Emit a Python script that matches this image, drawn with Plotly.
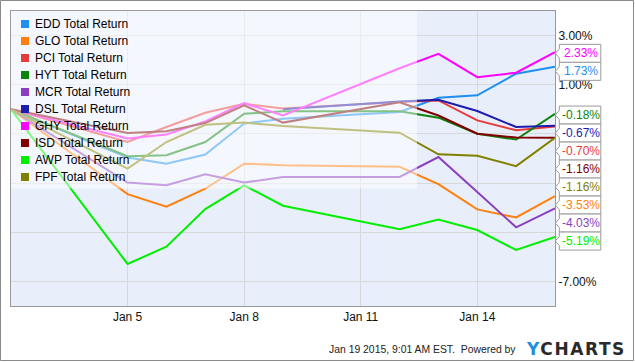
import plotly.graph_objects as go

# ---------------- data ----------------
dates = ["2015-01-02", "2015-01-05", "2015-01-06", "2015-01-07", "2015-01-08",
         "2015-01-09", "2015-01-12", "2015-01-13", "2015-01-14", "2015-01-15",
         "2015-01-16"]
EDD = [0, -1.96, -2.21, -1.84, -0.58, -0.38, -0.11, 0.47, 0.57, 1.45, 1.73]
GLO = [0, -3.45, -3.96, -3.23, -2.21, -2.27, -2.34, -3.04, -4.07, -4.40, -3.53]
PCI = [0, -1.33, -0.72, -0.14, 0.23, 0.03, 0.30, 0.36, -0.45, -0.85, -0.70]
HYT = [0, -1.91, -1.87, -1.33, -0.18, -0.08, -0.08, -0.34, -0.99, -1.23, -0.18]
MCR = [0, -2.98, -3.09, -2.64, -2.98, -2.75, -2.75, -1.94, -3.36, -4.80, -4.03]
DSL = [None, None, None, None, None, 0, 0.32, 0.39, -0.07, -0.72, -0.67]
GHY = [0, -1.19, -1.02, -0.49, 0.25, -0.25, 1.67, 2.26, 1.31, 1.49, 2.33]
ISD = [0, -0.96, -0.89, -0.56, 0.16, -0.54, 0.29, -0.25, -0.99, -1.15, -1.16]
AWP = [0, -6.29, -5.59, -4.06, -3.09, -3.92, -4.88, -4.48, -4.91, -5.72, -5.19]
FPF = [0, -2.41, -1.33, -0.63, -0.54, -0.68, -0.95, -1.83, -1.89, -2.31, -1.16]

names = ["EDD Total Return", "GLO Total Return", "PCI Total Return", "HYT Total Return",
         "MCR Total Return", "DSL Total Return", "GHY Total Return", "ISD Total Return",
         "AWP Total Return", "FPF Total Return"]
series = [EDD, GLO, PCI, HYT, MCR, DSL, GHY, ISD, AWP, FPF]
colors = ["#1e8ff0", "#ff7f0e", "#e8393c", "#0a840a", "#8a3fc0",
          "#1c1cae", "#ff00ff", "#800000", "#00ee00", "#808000"]

x_range = ["2015-01-02", "2015-01-16"]
x_ticks = ["2015-01-05", "2015-01-08", "2015-01-11", "2015-01-14"]
y_range = [-8, 4]
y_ticks = [-7, -5, -3, -1, 1, 3]
credit = "Jan 19 2015, 9:01 AM EST.  Powered by"

# ---------------- geometry ----------------
W, H = 635, 362
PL, PT, PR, PB = 11, 11, 80, 56
PW, PH = W - PL - PR, H - PT - PB


def px(x):
    return (x - PL) / PW


def py(y):
    return (PT + PH - y) / PH


def val_to_px(v):
    return PT + (y_range[1] - v) / (y_range[1] - y_range[0]) * PH


fig = go.Figure()
for s, c, n in zip(series, colors, names):
    fig.add_trace(go.Scatter(x=dates, y=s, mode="lines", name=n,
                             line=dict(color=c, width=2), showlegend=False,
                             connectgaps=False, hoverinfo="skip"))

shapes = []
annotations = []

# semi-transparent legend backdrop
shapes.append(dict(type="rect", xref="paper", yref="paper",
                   x0=px(PL), x1=px(417), y0=py(188.5), y1=py(PT),
                   fillcolor="rgba(255,255,255,0.5)", line=dict(width=0),
                   layer="above"))

# legend
for i, (n, c) in enumerate(zip(names, colors)):
    cy = 24 + 17 * i
    shapes.append(dict(type="rect", xref="paper", yref="paper",
                       x0=px(21), x1=px(29), y0=py(cy + 4), y1=py(cy - 4),
                       fillcolor=c, line=dict(width=0), layer="above"))
    annotations.append(dict(xref="paper", yref="paper", x=px(33), y=py(cy),
                            xanchor="left", yanchor="middle", showarrow=False,
                            text=n, font=dict(family="Liberation Sans, Arial", size=12,
                                              color="#000000")))

# end-of-line labels (stacked to avoid overlap)
order = sorted(range(len(series)), key=lambda i: -series[i][-1])
label_pos = []
prev = None
for i in order:
    yp = val_to_px(series[i][-1]) + 1.3
    if prev is not None and yp < prev + 18:
        yp = prev + 18
    prev = yp
    label_pos.append((i, yp))

bx0, bx1, tip = 559.3, 600.8, 555.3
for i, yp in label_pos:
    path = ("M {a},{t} L {b},{t} L {b},{bt} L {a},{bt} L {a},{n2} L {tp},{m} L {a},{n1} Z"
            .format(a=px(bx0), b=px(bx1), t=py(yp - 9), bt=py(yp + 9),
                    n1=py(yp - 4.5), n2=py(yp + 4.5), tp=px(tip), m=py(yp)))
    shapes.append(dict(type="path", xref="paper", yref="paper", path=path,
                       fillcolor="#ffffff", line=dict(color="#9a9a9a", width=1),
                       layer="above"))
    annotations.append(dict(xref="paper", yref="paper", x=px((bx0 + bx1) / 2 + 0.5),
                            y=py(yp), xanchor="center", yanchor="middle",
                            showarrow=False, text="%.2f%%" % series[i][-1],
                            font=dict(family="Liberation Sans, Arial", size=12,
                                      color=colors[i])))

# y tick labels hidden where the end labels cover them
tick_text = []
for t in y_ticks:
    tp = val_to_px(t)
    hidden = any(abs(tp - yp) < 13 for _, yp in label_pos)
    tick_text.append("" if hidden else "%.2f%%" % t)

# credits
annotations.append(dict(xref="paper", yref="paper", x=px(518), y=py(349),
                        xanchor="right", yanchor="middle", showarrow=False,
                        text=credit, font=dict(family="Liberation Sans, Arial", size=10.4,
                                               color="#222222")))
annotations.append(dict(xref="paper", yref="paper", x=px(524), y=py(349),
                        xanchor="left", yanchor="middle", showarrow=False,
                        text="<b><span style='color:#1e8fdc;letter-spacing:1.6px'>Y</span>"
                             "<span style='letter-spacing:1.6px'>CHARTS</span></b>",
                        font=dict(family="DejaVu Sans", size=17, color="#2a2a2a")))

# outer border
shapes.append(dict(type="rect", xref="paper", yref="paper",
                   x0=px(0.5), x1=px(633.5), y0=py(360.5), y1=py(0.5),
                   line=dict(color="#8a8a8a", width=1), fillcolor="rgba(0,0,0,0)",
                   layer="above"))

fig.update_layout(
    width=W, height=H,
    margin=dict(l=PL, r=PR, t=PT, b=PB),
    paper_bgcolor="#ffffff",
    plot_bgcolor="#e9effa",
    showlegend=False,
    hovermode=False,
    shapes=shapes,
    annotations=annotations,
    xaxis=dict(type="date", range=x_range, tickvals=x_ticks, tickformat="%b %-d",
               showgrid=True, gridcolor="#d6d8dc", gridwidth=1,
               showline=True, linecolor="#999999", linewidth=1, mirror=True,
               ticks="", zeroline=False,
               tickfont=dict(family="Liberation Sans, Arial", size=12, color="#111111")),
    yaxis=dict(range=y_range, side="right", tickvals=y_ticks, ticktext=tick_text,
               showgrid=True, gridcolor="#d6d8dc", gridwidth=1,
               showline=True, linecolor="#999999", linewidth=1, mirror=True,
               ticks="", zeroline=False,
               tickfont=dict(family="Liberation Sans, Arial", size=12, color="#111111")),
)

fig.write_html("out.html", config={"displayModeBar": False},
               post_script="document.body.style.margin='0';document.body.style.overflow='hidden';")
